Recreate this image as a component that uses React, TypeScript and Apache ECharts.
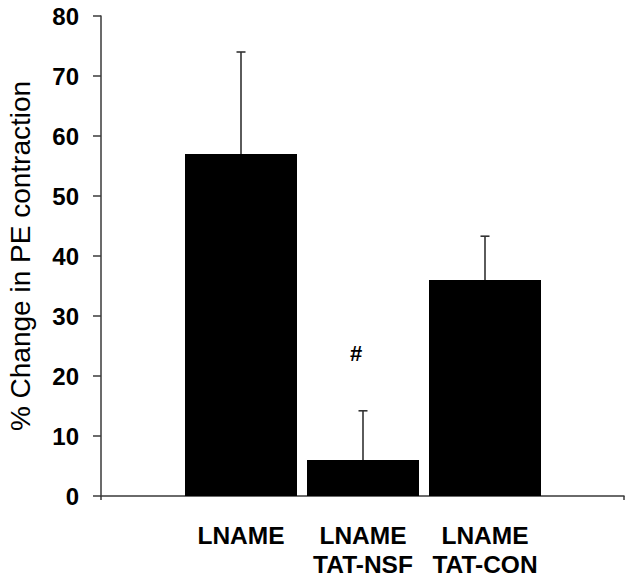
import React, { useEffect, useRef } from "react";
import * as echarts from "echarts";

const categories = ["LNAME", "LNAME\nTAT-NSF", "LNAME\nTAT-CON"];
const meanValues = [57, 6, 36];
const errorTops = [74, 14.2, 43.3];
const annotationText = ["", "#", ""];
const annotationValues = [0, 23.8, 0];
const yTicks = { min: 0, max: 80, interval: 10 };
const yTitle = "% Change in PE contraction";

const FONT = "'Liberation Sans', Arial, sans-serif";

export default function App() {
  const ref = useRef<HTMLDivElement>(null);
  useEffect(() => {
    if (!ref.current) return;
    const chart = echarts.init(ref.current, null, { renderer: "svg" });
    const errData = categories.map((_, i) => [i, meanValues[i], errorTops[i]]);
    const annData = categories.map((_, i) => [i, annotationValues[i], annotationText[i]]);
    chart.setOption({
      animation: false,
      backgroundColor: "#fff",
      grid: [
        { left: 101, top: 16, width: 523, height: 480, outerBoundsMode: "none", containLabel: false },
        { left: 180, top: 16, width: 366, height: 480, outerBoundsMode: "none", containLabel: false },
      ],
      xAxis: [
        {
          gridIndex: 0,
          type: "value",
          min: 0,
          max: 1,
          interval: 1,
          axisLine: { show: true, lineStyle: { color: "#3a3a3a", width: 1.5 } },
          axisTick: { show: true, length: 4, lineStyle: { color: "#3a3a3a", width: 1.5 } },
          axisLabel: { show: false },
          splitLine: { show: false },
        },
        {
          gridIndex: 1,
          type: "category",
          data: categories,
          axisLine: { show: false },
          axisTick: { show: false },
          axisLabel: {
            margin: 25,
            fontFamily: FONT,
            fontWeight: "bold",
            fontSize: 24.5,
            lineHeight: 29,
            color: "#000",
            interval: 0,
          },
        },
      ],
      yAxis: [
        {
          gridIndex: 0,
          type: "value",
          min: yTicks.min,
          max: yTicks.max,
          interval: yTicks.interval,
          name: yTitle,
          nameLocation: "middle",
          nameRotate: 90,
          nameGap: 67,
          nameTextStyle: { fontFamily: FONT, fontSize: 28, color: "#000" },
          axisLine: { show: true, lineStyle: { color: "#3a3a3a", width: 1.5 } },
          axisTick: { show: true, length: 8, lineStyle: { color: "#3a3a3a", width: 1.5 } },
          axisLabel: {
            margin: 22,
            fontFamily: FONT,
            fontWeight: "bold",
            fontSize: 24,
            color: "#000",
          },
          splitLine: { show: false },
        },
        {
          gridIndex: 1,
          type: "value",
          min: yTicks.min,
          max: yTicks.max,
          interval: yTicks.interval,
          show: false,
          splitLine: { show: false },
        },
      ],
      series: [
        {
          type: "bar",
          xAxisIndex: 1,
          yAxisIndex: 1,
          data: meanValues,
          barWidth: 112,
          itemStyle: { color: "#000" },
          z: 2,
        },
        {
          type: "custom",
          xAxisIndex: 1,
          yAxisIndex: 1,
          data: errData,
          z: 3,
          renderItem: (params: any, api: any) => {
            const i = api.value(0);
            const base = api.coord([i, api.value(1)]);
            const top = api.coord([i, api.value(2)]);
            const style = { stroke: "#333", lineWidth: 1.6 };
            return {
              type: "group",
              children: [
                { type: "line", shape: { x1: base[0], y1: base[1], x2: top[0], y2: top[1] }, style },
                { type: "line", shape: { x1: top[0] - 4.5, y1: top[1], x2: top[0] + 4.5, y2: top[1] }, style },
              ],
            };
          },
        },
        {
          type: "custom",
          xAxisIndex: 1,
          yAxisIndex: 1,
          data: annData,
          z: 4,
          renderItem: (params: any, api: any) => {
            const idx = params.dataIndex;
            const txt = annotationText[idx];
            if (!txt) return null;
            const p = api.coord([api.value(0), api.value(1)]);
            return {
              type: "text",
              x: p[0] - 7,
              y: p[1],
              style: {
                text: txt,
                fontFamily: FONT,
                fontWeight: "bold",
                fontSize: 22,
                fill: "#000",
                align: "center",
                verticalAlign: "middle",
              },
            };
          },
        },
      ],
    });
    return () => chart.dispose();
  }, []);
  return (
    <div
      ref={ref}
      style={{ position: "fixed", left: 0, top: 0, width: 628, height: 580, background: "#fff" }}
    />
  );
}
